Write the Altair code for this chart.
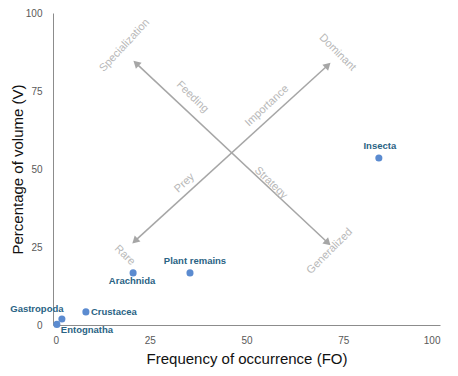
import altair as alt
import pandas as pd

# Data points
taxa = ["Insecta", "Plant remains", "Arachnida", "Crustacea", "Gastropoda", "Entognatha"]
fo = [84.2, 35.4, 20.7, 8.5, 2.3, 1.0]
vol = [53.5, 16.7, 16.7, 4.2, 1.9, 0.2]
lab_dx = [1, 5, -1, 5, -25, 4]
lab_dy = [-12, -12, 8, 0, -10, 6]
lab_align = ["center", "center", "center", "left", "center", "left"]

# Interpretation arrows (Costello diagram)
arrow_x1 = [21.4, 21.7]
arrow_y1 = [27.2, 83.6]
arrow_x2 = [70.8, 70.8]
arrow_y2 = [83.0, 26.6]

# Interpretation labels
ann_text = ["Specialization", "Dominant", "Feeding", "Importance", "Prey", "Strategy", "Rare", "Generalized"]
ann_x = [18.5, 73.5, 36.0, 55.3, 34.0, 56.3, 18.5, 71.5]
ann_y = [89.6, 87.3, 73.1, 70.2, 45.5, 45.5, 22.3, 23.6]
ann_angle = [313, 45, 44, 317, 317, 44, 44, 315]

xticks = [0, 25, 50, 75, 100]
yticks = [0, 25, 50, 75, 100]

pts = pd.DataFrame({"FO": fo, "V": vol, "taxon": taxa})
arr = pd.DataFrame({"x1": arrow_x1, "y1": arrow_y1, "x2": arrow_x2, "y2": arrow_y2})
ann = pd.DataFrame({"t": ann_text, "x": ann_x, "y": ann_y, "a": ann_angle})

xs = alt.Scale(domain=[0, 100], nice=False)
ys = alt.Scale(domain=[0, 100], nice=False)

X = alt.X("FO:Q", scale=xs, title="Frequency of occurrence (FO)",
          axis=alt.Axis(values=xticks, grid=False, ticks=False, labelPadding=10,
                        domainColor="#8c8c8c", labelColor="#595959", labelFontSize=10,
                        titleFontSize=15, titleFontWeight="normal", titleColor="#111",
                        titlePadding=6, labelFont="Liberation Sans", titleFont="Liberation Sans"))
Y = alt.Y("V:Q", scale=ys, title="Percentage of volume (V)",
          axis=alt.Axis(values=yticks, grid=False, ticks=False, labelPadding=11,
                        domainColor="#8c8c8c", labelColor="#595959", labelFontSize=10,
                        titleFontSize=15, titleFontWeight="normal", titleColor="#111",
                        titlePadding=0, labelFont="Liberation Sans", titleFont="Liberation Sans"))

points = alt.Chart(pts).mark_circle(size=50, color="#5b8bd0", opacity=1).encode(x=X, y=Y)

labels = []
for i, t in enumerate(taxa):
    labels.append(
        alt.Chart(pts.iloc[[i]]).mark_text(
            dx=lab_dx[i], dy=lab_dy[i], align=lab_align[i], fontSize=9.5, fontWeight="bold",
            color="#2a6384", font="Liberation Sans", baseline="middle"
        ).encode(x=alt.X("FO:Q", scale=xs), y=alt.Y("V:Q", scale=ys), text="taxon:N")
    )

lines = alt.Chart(arr).mark_rule(color="#a6a6a6", strokeWidth=1.5).encode(
    x=alt.X("x1:Q", scale=xs), y=alt.Y("y1:Q", scale=ys), x2="x2:Q", y2="y2:Q")

heads_df = pd.DataFrame({
    "x": [arrow_x1[0], arrow_x2[0], arrow_x1[1], arrow_x2[1]],
    "y": [arrow_y1[0], arrow_y2[0], arrow_y1[1], arrow_y2[1]],
    "ang": [227, 47, 313, 133],
})
heads = alt.Chart(heads_df).mark_point(shape="triangle", filled=True, size=70,
                                        color="#a6a6a6", opacity=1).encode(
    x=alt.X("x:Q", scale=xs), y=alt.Y("y:Q", scale=ys), angle=alt.Angle("ang:Q", scale=None))

anns = alt.Chart(ann).mark_text(fontSize=11, color="#b8b8b8", font="Liberation Sans").encode(
    x=alt.X("x:Q", scale=xs), y=alt.Y("y:Q", scale=ys), text="t:N", angle=alt.Angle("a:Q", scale=None))

chart = alt.layer(lines, heads, anns, points, *labels).properties(
    width=387, height=312,
    autosize=alt.AutoSizeParams(type="none"),
    padding={"left": 45, "top": 5, "right": 5, "bottom": 48},
).configure(background="white", view=alt.ViewConfig(stroke=None))

chart.save("out.html", embed_options={"renderer": "svg", "actions": False})
